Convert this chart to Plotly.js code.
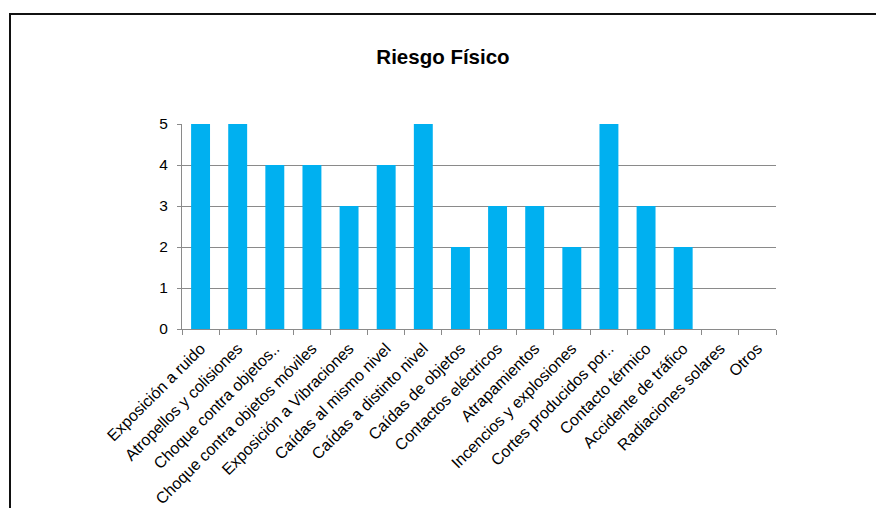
<!DOCTYPE html>
<html>
<head>
<meta charset="utf-8">
<script src="https://cdn.plot.ly/plotly-3.0.1.min.js"></script>
<style>
  html, body { margin: 0; padding: 0; background: #fff; }
  #wrap { position: relative; width: 876px; height: 508px; overflow: hidden; }
  #chart { width: 876px; height: 508px; }
  #frame { position: absolute; left: 9px; top: 13px; width: 1000px; height: 1000px;
           border-left: 2px solid #111; border-top: 2px solid #111; pointer-events: none; }
</style>
</head>
<body>
<div id="wrap">
  <div id="chart"></div>
  <div id="frame"></div>
</div>
<script>
const categories = [
  "Exposición a ruido",
  "Atropellos y colisiones",
  "Choque contra objetos..",
  "Choque contra objetos móviles",
  "Exposición a Vibraciones",
  "Caídas al mismo nivel",
  "Caídas a distinto nivel",
  "Caídas de objetos",
  "Contactos eléctricos",
  "Atrapamientos",
  "Incencios y explosiones",
  "Cortes producidos por..",
  "Contacto térmico",
  "Accidente de tráfico",
  "Radiaciones solares",
  "Otros"
];
const values = [5, 5, 4, 4, 3, 4, 5, 2, 3, 3, 2, 5, 3, 2, 0, 0];
const yTicks = [0, 1, 2, 3, 4, 5];
const chartTitle = "Riesgo Físico";

const fontFamily = "'Liberation Sans', Arial, sans-serif";
const gray = "#8a8a8a";

Plotly.newPlot("chart", [{
  type: "bar",
  x: categories,
  y: values,
  marker: { color: "#00B0F0" },
  hoverinfo: "x+y"
}], {
  width: 876,
  height: 508,
  margin: { l: 182, r: 100, t: 124, b: 179, pad: 0 },
  paper_bgcolor: "#ffffff",
  plot_bgcolor: "#ffffff",
  bargap: 0.49,
  showlegend: false,
  font: { family: fontFamily, color: "#000" },
  title: {
    text: chartTitle,
    font: { family: fontFamily, size: 20.5, weight: "bold", color: "#000" },
    x: 443 / 876, xref: "container", xanchor: "center",
    y: 1 - 57 / 508, yref: "container", yanchor: "middle"
  },
  xaxis: {
    type: "category",
    categoryorder: "array",
    categoryarray: categories,
    range: [-0.5, categories.length - 0.5],
    showline: true, linecolor: gray, linewidth: 1,
    ticks: "outside", tickson: "boundaries", ticklen: 5, tickcolor: gray, tickwidth: 1,
    showgrid: false, zeroline: false,
    tickangle: -45,
    ticklabelstandoff: 3,
    tickfont: { family: fontFamily, size: 16, color: "#000" },
    automargin: false
  },
  yaxis: {
    range: [0, 5],
    tickmode: "array", tickvals: yTicks, ticktext: yTicks.map(String),
    showline: true, linecolor: gray, linewidth: 1,
    ticks: "outside", ticklen: 4, tickcolor: gray, tickwidth: 1,
    showgrid: true, gridcolor: gray, gridwidth: 1,
    zeroline: false,
    ticklabelstandoff: 6,
    tickfont: { family: fontFamily, size: 15.5, color: "#000" },
    automargin: false
  }
}, { displayModeBar: false, staticPlot: true });
</script>
</body>
</html>
